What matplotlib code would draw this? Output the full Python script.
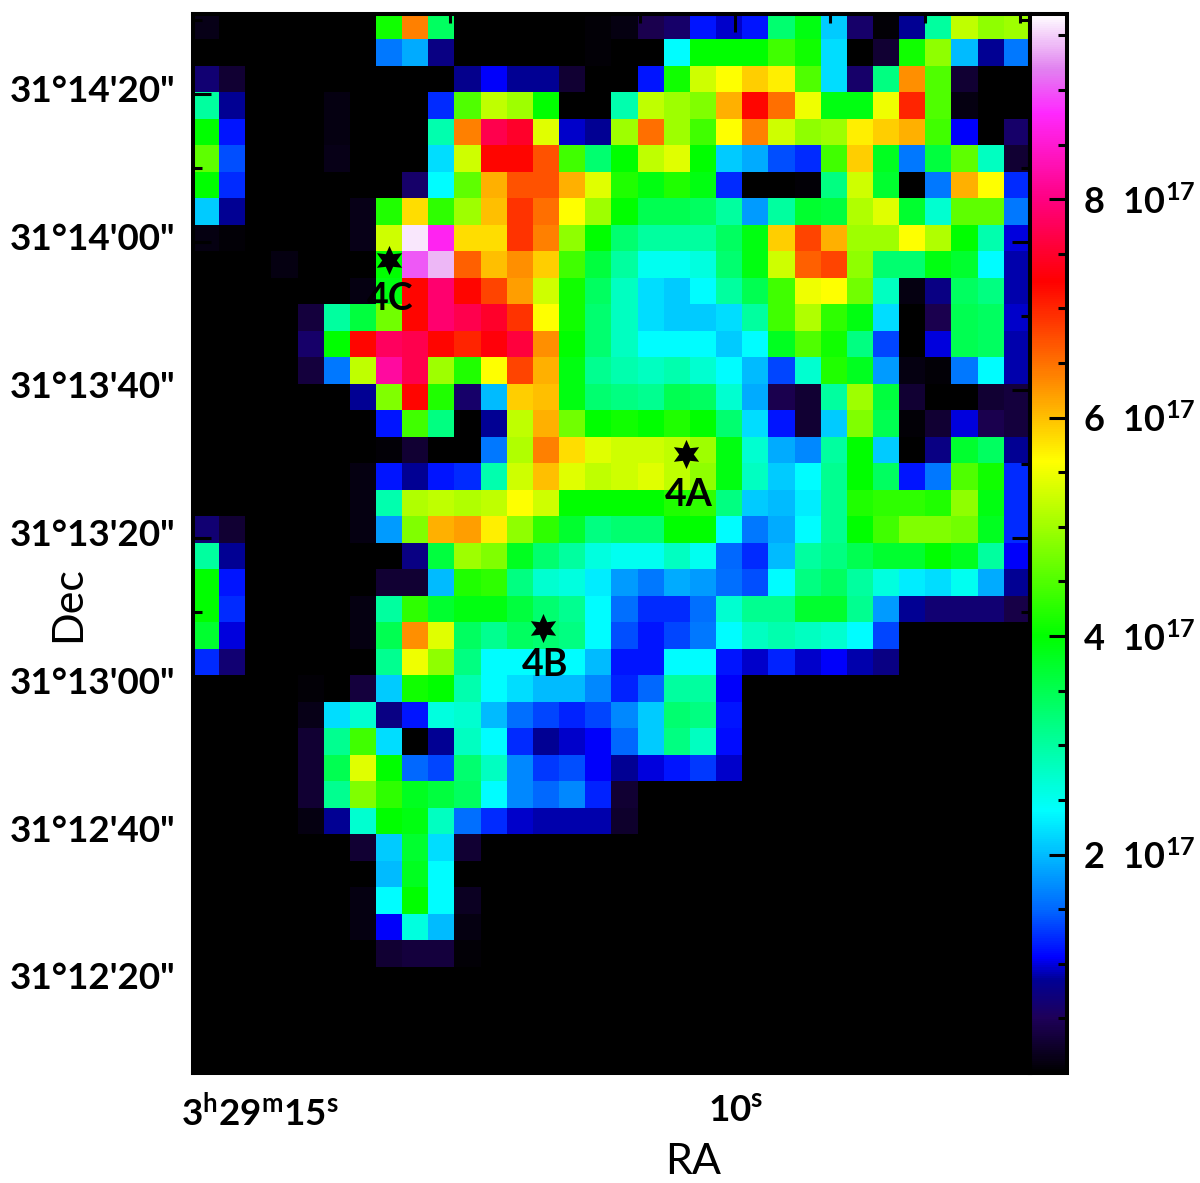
import numpy as np
import matplotlib
matplotlib.use('Agg')
import matplotlib.pyplot as plt
from matplotlib.colors import LinearSegmentedColormap, Normalize
from matplotlib.ticker import FixedLocator, FixedFormatter
from matplotlib.transforms import ScaledTranslation

plt.rcParams['font.family'] = ['Lato', 'DejaVu Sans']
plt.rcParams['font.weight'] = 'bold'
plt.rcParams['mathtext.fontset'] = 'custom'
plt.rcParams['mathtext.rm'] = 'Lato:bold'
plt.rcParams['mathtext.default'] = 'rm'

# column density per pixel, units of 1e17, top row first
r00 = [0.15,0,0,0,0,0,0,4.1,6.4,3.4,0,0,0,0,0,0.05,0.1,0.45,0.6,1.15,0.95,1.15,3.3,3.9,2.1,0.6,0.05,0.85,3.0,5.2,4.9,5.0]
r01 = [0,0,0,0,0,0,0,1.6,1.9,0.75,0,0,0,0,0,0.05,0,0,2.4,4.0,4.0,4.0,4.4,4.1,2.2,0,0.3,4.1,4.9,2.0,0.85,1.6]
r02 = [0.65,0.3,0,0,0,0,0,0,0,0,0.8,1.05,0.85,0.85,0.3,0,0,1.15,4.1,5.3,5.6,5.9,5.7,4.5,2.2,0.6,3.2,6.3,4.5,0.3,0,0]
r03 = [3.0,0.85,0,0,0,0.1,0,0,0,1.25,4.5,5.2,5.0,4.0,0,0,2.9,5.2,5.0,4.8,6.1,7.2,6.5,5.5,3.9,3.9,5.5,7.0,4.5,0.1,0,0]
r04 = [4.0,1.15,0,0,0,0.1,0,0,0,2.9,6.4,7.7,7.5,5.4,0.95,0.85,5.0,6.5,5.0,4.4,5.6,6.4,5.3,4.9,5.0,5.7,5.9,6.1,4.4,1.05,0,0.6]
r05 = [4.6,1.4,0,0,0,0.15,0,0,0,2.2,5.3,7.2,7.2,6.7,4.4,3.3,4.0,5.2,5.4,4.0,2.1,1.9,1.4,1.25,4.4,5.9,3.8,1.6,3.6,4.6,2.8,0.3]
r06 = [4.0,1.25,0,0,0,0,0,0,0.6,2.4,4.6,6.1,6.7,6.7,6.1,5.4,4.2,3.9,4.2,3.9,1.25,0,0,0.05,3.2,5.3,3.7,0,1.6,6.1,5.6,1.25]
r07 = [2.1,0.85,0,0,0,0,0.15,4.2,5.8,4.3,5.0,6.0,6.9,6.5,5.6,5.0,4.0,3.5,3.5,3.4,3.0,1.8,3.0,3.7,3.6,5.1,5.4,3.7,2.7,4.6,4.6,1.6]
r08 = [0.1,0.05,0,0,0,0,0.15,5.3,9.6,8.7,5.8,5.8,6.9,6.4,4.9,4.0,3.3,3.0,3.0,3.0,3.4,3.9,5.9,6.8,6.1,5.0,5.0,5.6,5.1,4.0,2.9,1.0]
r09 = [0,0,0,0.1,0,0,0,4.0,9.0,9.4,6.6,6.0,6.3,5.9,4.4,3.6,3.0,2.5,2.5,2.6,3.3,3.9,5.3,6.6,6.8,4.9,3.3,3.3,3.9,3.7,2.4,0.9]
r10 = [0,0,0,0,0,0,0.1,3.9,7.2,7.9,7.2,6.8,6.2,5.3,4.1,3.4,2.8,2.2,2.1,2.4,3.0,3.5,4.4,5.5,5.6,4.7,2.8,0.1,0.75,3.4,3.2,0.9]
r11 = [0,0,0,0,0.35,3.0,3.6,4.7,7.2,7.9,7.7,7.5,6.9,5.6,4.1,3.3,2.8,2.2,2.1,2.1,2.2,3.0,4.4,5.1,4.3,3.9,2.2,0,0.45,3.5,3.4,0.95]
r12 = [0,0,0,0,0.6,4.0,7.2,7.8,7.7,7.2,7.0,7.3,7.6,6.3,4.0,3.3,2.8,2.4,2.4,2.4,2.1,2.4,3.8,4.5,4.1,3.2,1.35,0,1.0,3.5,3.4,0.9]
r13 = [0,0,0,0,0.35,1.6,5.2,8.2,7.7,5.0,4.2,5.6,6.8,6.1,3.9,3.1,2.9,2.8,2.9,2.7,2.4,2.0,1.35,2.7,4.2,3.8,1.8,0.1,0.05,1.6,2.4,0.9]
r14 = [0,0,0,0,0,0,0.85,4.8,7.2,4.2,0.6,2.0,5.9,6.0,3.9,3.3,3.2,3.1,3.5,3.4,2.7,1.9,0.45,0.3,3.0,5.0,3.6,0.3,0,0,0.3,0.35]
r15 = [0,0,0,0,0,0,0,1.15,4.4,3.2,0,0.85,5.2,6.1,4.7,4.0,4.1,4.0,4.2,4.0,3.3,2.2,1.15,0.3,2.1,4.8,3.5,0.05,0.3,1.0,0.45,0.35]
r16 = [0,0,0,0,0,0,0,0.05,0.3,0,0,1.6,5.1,6.4,5.8,5.4,5.3,5.3,5.2,5.0,3.9,2.7,1.9,1.7,3.0,4.0,2.1,0,0.75,3.7,3.4,0.85]
r17 = [0,0,0,0,0,0,0.1,1.15,0.85,1.15,1.25,2.9,5.3,6.0,5.4,5.2,5.3,5.4,5.2,4.9,3.9,2.8,2.1,2.4,3.1,4.0,3.4,1.15,1.6,4.5,4.1,1.25]
r18 = [0,0,0,0,0,0,0.1,2.9,5.1,5.2,5.1,5.2,5.6,5.3,4.0,4.0,4.0,4.0,4.2,4.3,3.2,2.1,2.0,2.3,3.1,4.2,4.3,4.3,4.2,4.9,3.9,1.25]
r19 = [0.65,0.3,0,0,0,0,0.1,1.8,4.8,6.1,6.2,5.7,4.9,4.3,3.7,3.2,3.3,3.3,4.0,4.0,2.4,1.6,1.9,2.4,3.1,4.0,4.4,4.8,4.8,4.7,3.8,1.25]
r20 = [3.0,0.85,0,0,0,0,0,0,0.75,3.6,5.0,4.8,3.8,3.3,3.0,2.6,2.5,2.5,2.8,2.5,1.5,1.25,2.0,3.0,3.2,3.5,3.7,3.7,4.0,3.8,3.0,1.05]
r21 = [4.0,1.15,0,0,0,0,0,0.3,0.3,2.0,4.2,4.3,3.2,2.7,2.6,2.3,1.8,1.6,1.9,1.8,1.55,1.4,2.4,3.2,3.4,3.0,2.6,2.3,2.2,2.5,1.9,0.85]
r22 = [4.0,1.25,0,0,0,0,0.1,3.0,4.3,3.7,3.9,3.9,3.6,3.3,3.1,2.4,1.55,1.25,1.25,1.55,2.7,3.1,3.1,3.7,3.7,3.1,1.8,0.85,0.65,0.65,0.65,0.4]
r23 = [3.7,1.0,0,0,0,0,0.1,3.5,6.3,5.4,3.4,3.1,3.4,3.3,3.2,2.4,1.4,1.15,1.35,1.6,2.4,2.8,2.9,2.8,2.7,2.4,1.35,0,0,0,0,0]
r24 = [1.25,0.65,0,0,0,0,0,3.1,5.5,4.9,3.2,2.4,2.4,2.5,2.4,2.0,1.15,1.15,2.4,2.4,1.15,0.95,1.2,0.95,1.05,0.9,0.75,0,0,0,0,0]
r25 = [0,0,0,0,0.05,0,0.35,2.1,4.1,4.0,2.9,2.4,2.2,2.0,2.0,1.7,1.2,1.5,3.0,3.0,1.05,0,0,0,0,0,0,0,0,0,0,0]
r26 = [0,0,0,0,0.15,2.2,2.7,0.75,1.15,2.6,2.7,2.0,1.55,1.35,1.2,1.35,1.7,2.1,3.3,3.2,1.15,0,0,0,0,0,0,0,0,0,0,0]
r27 = [0,0,0,0,0.3,3.1,4.4,2.2,0,0.85,2.8,2.4,1.25,0.85,0.95,1.05,1.5,2.1,3.2,2.8,1.1,0,0,0,0,0,0,0,0,0,0,0]
r28 = [0,0,0,0,0.3,3.5,5.4,4.0,1.5,1.35,3.3,2.8,1.7,1.3,1.4,1.05,0.85,1.0,1.15,1.3,0.95,0,0,0,0,0,0,0,0,0,0,0]
r29 = [0,0,0,0,0.3,3.1,4.8,4.3,3.8,3.6,3.4,2.4,1.7,1.5,1.7,1.2,0.3,0,0,0,0,0,0,0,0,0,0,0,0,0,0,0]
r30 = [0,0,0,0,0.1,0.85,2.7,4.0,3.9,2.8,1.55,1.25,0.95,0.9,0.9,0.9,0.25,0,0,0,0,0,0,0,0,0,0,0,0,0,0,0]
r31 = [0,0,0,0,0,0,0.3,2.1,3.7,2.2,0.3,0,0,0,0,0,0,0,0,0,0,0,0,0,0,0,0,0,0,0,0,0]
r32 = [0,0,0,0,0,0,0,2.0,3.8,2.4,0,0,0,0,0,0,0,0,0,0,0,0,0,0,0,0,0,0,0,0,0,0]
r33 = [0,0,0,0,0,0,0.1,2.4,4.0,2.4,0.2,0,0,0,0,0,0,0,0,0,0,0,0,0,0,0,0,0,0,0,0,0]
r34 = [0,0,0,0,0,0,0.1,1.05,2.6,2.0,0.1,0,0,0,0,0,0,0,0,0,0,0,0,0,0,0,0,0,0,0,0,0]
r35 = [0,0,0,0,0,0,0,0.3,0.35,0.35,0.05,0,0,0,0,0,0,0,0,0,0,0,0,0,0,0,0,0,0,0,0,0]
r36 = [0] * 32
r37 = [0] * 32
r38 = [0] * 32
r39 = [0] * 32

density = np.array([r00, r01, r02, r03, r04, r05, r06, r07, r08, r09,
                    r10, r11, r12, r13, r14, r15, r16, r17, r18, r19,
                    r20, r21, r22, r23, r24, r25, r26, r27, r28, r29,
                    r30, r31, r32, r33, r34, r35, r36, r37, r38, r39], dtype=float)

# sources: RA seconds past 3h29m, Dec arcsec past 31d
star_names = ['4A', '4B', '4C']
star_ra = [10.516, 12.021, 13.642]
star_dec = [811.35, 787.84, 837.6]
label_ra = [10.49, 12.0, 13.63]
label_dec = [805.8, 782.8, 832.3]

dec_ticks = [860, 840, 820, 800, 780, 760, 740]
dec_labels = ['31°14\'20"', '31°14\'00"', '31°13\'40"', '31°13\'20"',
              '31°13\'00"', '31°12\'40"', '31°12\'20"']
ra_ticks = [15, 10]
ra_labels = [r'$3^{h}29^{m}15^{s}$', r'$10^{s}$']
cbar_ticks = [2, 4, 6, 8]
cbar_labels = [r'$2\ \,10^{17}$', r'$4\ \,10^{17}$', r'$6\ \,10^{17}$', r'$8\ \,10^{17}$']

vmax = 9.7
anchors = [(0, (0, 0, 0)), (0.5, (30, 0, 90)), (0.85, (0, 0, 150)), (1.05, (0, 0, 255)),
           (1.5, (0, 105, 255)), (2.4, (0, 255, 255)), (3.2, (0, 255, 128)), (4.0, (0, 255, 0)),
           (4.8, (128, 255, 0)), (5.6, (255, 255, 0)), (6.4, (255, 128, 0)), (7.25, (255, 0, 0)),
           (8.0, (255, 0, 128)), (8.8, (255, 40, 255)), (9.2, (225, 130, 240)), (9.7, (255, 255, 255))]
cmap = LinearSegmentedColormap.from_list(
    'rainbow_white', [(v / vmax, tuple(c / 255 for c in rgb)) for v, rgb in anchors], N=512)

W, H = 1200, 1183
fig = plt.figure(figsize=(W / 100, H / 100), dpi=100)
ax = fig.add_axes([193 / W, 1 - 1073 / H, (1030 - 193) / W, (1073 - 13.5) / H])
cax = fig.add_axes([1030 / W, 1 - 1073 / H, 36.5 / W, (1073 - 13.5) / H])

# extent from tick positions: 95 px per RA second, 7.4 px per arcsec
im = ax.imshow(density, cmap=cmap, norm=Normalize(0, vmax), interpolation='nearest',
               aspect='auto', extent=[15.71, 6.90, 727.7, 870.9])
ax.set_xlim(15.71, 6.90)
ax.set_ylim(727.7, 870.9)

ax.plot(star_ra, star_dec, ls='none', marker=(6, 1, 0), ms=21, color='black', mew=0)
for name, x, y in zip(star_names, label_ra, label_dec):
    ax.text(x, y, name, fontsize=27, color='black', ha='center', va='center')

ax.xaxis.set_major_locator(FixedLocator(ra_ticks))
ax.xaxis.set_major_formatter(FixedFormatter(ra_labels))
ax.xaxis.set_minor_locator(FixedLocator([14, 13, 12, 11, 9, 8, 7]))
ax.yaxis.set_major_locator(FixedLocator(dec_ticks))
ax.yaxis.set_major_formatter(FixedFormatter(dec_labels))
ax.yaxis.set_minor_locator(FixedLocator([870, 850, 830, 810, 790, 770, 750, 730]))
ax.tick_params(which='major', direction='in', top=True, right=True, length=13, width=2.2,
               labelsize=26.5, color='black')
ax.tick_params(which='minor', direction='in', top=True, right=True, length=6.5, width=2.2,
               color='black')
ax.tick_params(axis='x', which='major', pad=15)
ax.tick_params(axis='y', which='major', pad=13)

# dec labels sit a little above their ticks
up = ScaledTranslation(0, 6 / 100, fig.dpi_scale_trans)
for lab in ax.get_yticklabels():
    lab.set_transform(lab.get_transform() + up)

ax.set_xlabel('RA', fontsize=31)
ax.set_ylabel('Dec', fontsize=31)
ax.xaxis.set_label_coords((693 - 193) / (1030 - 193), -0.066)
ax.yaxis.set_label_coords(-0.127, (1073 - 604) / (1073 - 13.5))

cb = fig.colorbar(im, cax=cax)
cb.set_ticks(cbar_ticks, labels=cbar_labels)
cb.set_ticks(np.arange(0.5, 9.6, 0.5)[[i for i in range(19) if (i + 1) % 4 != 0]], minor=True)
cax.tick_params(which='major', direction='in', right=True, length=13, width=2.2,
                labelsize=26, pad=12, color='black')
cax.tick_params(which='minor', direction='in', right=True, length=6.5, width=2.2, color='black')

for a in [ax, cax]:
    for s in a.spines.values():
        s.set_linewidth(2.9)
        s.set_color('black')
cb.outline.set_linewidth(2.9)
cb.outline.set_edgecolor('black')

fig.savefig('out.png', dpi=100, facecolor='white')
